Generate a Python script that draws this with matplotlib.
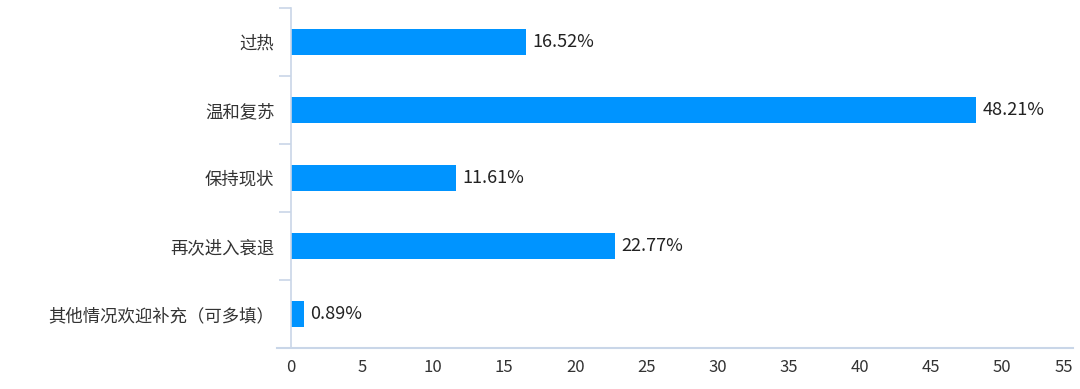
import matplotlib
matplotlib.use('Agg')
import matplotlib.pyplot as plt
import numpy as np

plt.rcParams['font.family'] = ['Noto Sans CJK SC', 'DejaVu Sans']

categories = ['过热', '温和复苏', '保持现状', '再次进入衰退', '其他情况欢迎补充（可多填）']
values = [16.52, 48.21, 11.61, 22.77, 0.89]
xticks = [0, 5, 10, 15, 20, 25, 30, 35, 40, 45, 50, 55]

bar_color = '#0094FF'
axis_color = '#C9D6E8'
text_color = '#333333'

fig = plt.figure(figsize=(10.8, 3.89), dpi=100)
ax = fig.add_axes([291 / 1080, 1 - 348 / 389, (1073 - 291) / 1080, (348 - 8) / 389])

y = np.arange(len(categories))
ax.barh(y, values, height=0.37, color=bar_color)
for yi, v in zip(y, values):
    ax.text(v + 0.45, yi, f'{v:.2f}%', va='center', ha='left', fontsize=13, color='#222222')

ax.set_xlim(0, 55)
ax.set_ylim(len(categories) - 0.5, -0.5)
ax.set_xticks(xticks)
ax.set_xticklabels([str(t) for t in xticks], fontsize=12, color=text_color)
ax.get_xticklabels()[-1].set_horizontalalignment('right')
ax.set_yticks(y)
ax.set_yticklabels(categories, fontsize=12.5, color=text_color)
ax.set_yticks(np.arange(-0.5, len(categories), 1.0), minor=True)
ax.tick_params(axis='y', which='major', length=0, pad=12)
ax.tick_params(axis='y', which='minor', length=9, color=axis_color, width=1.2)
ax.tick_params(axis='x', length=0, pad=8)

for s in ['top', 'right', 'bottom']:
    ax.spines[s].set_visible(False)
ax.spines['left'].set_color(axis_color)
ax.spines['left'].set_linewidth(1.2)
ax.plot([-14 / 782, 1], [0, 0], transform=ax.transAxes, color=axis_color,
        lw=1.5, clip_on=False)

fig.savefig('out.png', dpi=100, facecolor='white')
